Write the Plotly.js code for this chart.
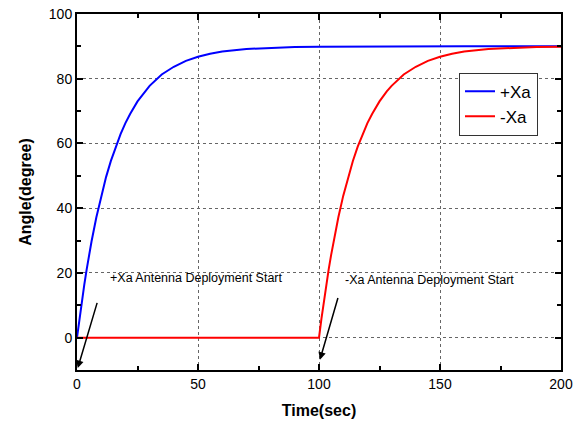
<!DOCTYPE html>
<html>
<head>
<meta charset="utf-8">
<script src="https://cdn.plot.ly/plotly-3.0.1.min.js"></script>
<style>html,body{margin:0;padding:0;background:#fff;}#chart{width:573px;height:421px;}</style>
</head>
<body>
<div id="chart"></div>
<script>
// Time (sec) sample points
const timePlus = [0,1,2,3,4,5,6,8,10,12,14,16,18,20,22,25,28,30,35,40,45,50,55,60,70,80,90,100,120,140,160,180,200];
// +Xa angle (degree)
const anglePlus = [0,5.8,11.2,16.3,21.1,25.5,29.7,37.2,43.8,49.6,54.6,59.0,62.9,66.3,69.2,73.0,76.1,77.8,81.3,83.7,85.5,86.8,87.7,88.4,89.2,89.6,89.8,89.9,90,90,90,90,90];
// -Xa
const timeMinus = [0,50,100,101,102,103,104,105,106,108,110,112,114,116,118,120,122,125,128,130,135,140,145,150,155,160,170,180,190,200];
const angleMinus = [0,0,0,5.8,11.2,16.3,21.1,25.5,29.7,37.2,43.8,49.6,54.6,59.0,62.9,66.3,69.2,73.0,76.1,77.8,81.3,83.7,85.5,86.8,87.7,88.4,89.2,89.6,89.8,89.9];

const seriesNames = ['+Xa','-Xa'];
const labelPlus = '+Xa Antenna Deployment Start';
const labelMinus = '-Xa Antenna Deployment Start';

const font = 'Liberation Sans, Arial, sans-serif';

const traces = [
  {x: timePlus, y: anglePlus, name: seriesNames[0], mode: 'lines', line: {color: '#0000ff', width: 2}},
  {x: timeMinus, y: angleMinus, name: seriesNames[1], mode: 'lines', line: {color: '#ff0000', width: 2}}
];

const axisCommon = {
  showline: true, linecolor: '#000', linewidth: 2, mirror: 'ticks',
  ticks: 'inside', ticklen: 6, tickwidth: 2, tickcolor: '#000',
  showgrid: true, gridcolor: '#666', griddash: 'dot', gridwidth: 1,
  zeroline: false,
  tickfont: {family: font, size: 14, color: '#000'}
};

const layout = {
  width: 573, height: 421,
  margin: {l: 77, r: 12, t: 14, b: 51},
  paper_bgcolor: '#fff', plot_bgcolor: '#fff',
  font: {family: font, color: '#000'},
  xaxis: Object.assign({}, axisCommon, {
    range: [0, 200], dtick: 50, tick0: 0,
    minor: {dtick: 25, ticks: 'inside', ticklen: 4, tickwidth: 2, tickcolor: '#000', showgrid: false},
    title: {text: 'Time(sec)', font: {family: font, size: 16, color: '#000', weight: 'bold'}, standoff: 14}
  }),
  yaxis: Object.assign({}, axisCommon, {
    range: [-10, 100], dtick: 20, tick0: 0,
    minor: {dtick: 10, ticks: 'inside', ticklen: 4, tickwidth: 2, tickcolor: '#000', showgrid: false},
    title: {text: 'Angle(degree)', font: {family: font, size: 16, color: '#000', weight: 'bold'}, standoff: 13}
  }),
  legend: {
    bgcolor: '#fff', bordercolor: '#333', borderwidth: 1,
    font: {family: font, size: 17, color: '#000'},
    tracegroupgap: 0
  },
  showlegend: true,
  annotations: [
    {x: 0.3, y: -9.4, ax: 8.5, ay: 11.2, axref: 'x', ayref: 'y', xref: 'x', yref: 'y',
     text: '', showarrow: true, arrowhead: 2, arrowsize: 1, arrowwidth: 1.5, arrowcolor: '#000'},
    {x: 100.4, y: -6.8, ax: 108, ay: 12.7, axref: 'x', ayref: 'y', xref: 'x', yref: 'y',
     text: '', showarrow: true, arrowhead: 2, arrowsize: 1, arrowwidth: 1.5, arrowcolor: '#000'},
    {x: 12.8, y: 18.5, xref: 'x', yref: 'y', xanchor: 'left', yanchor: 'middle', showarrow: false,
     text: labelPlus, font: {family: font, size: 12.5, color: '#000'}},
    {x: 110, y: 17.9, xref: 'x', yref: 'y', xanchor: 'left', yanchor: 'middle', showarrow: false,
     text: labelMinus, font: {family: font, size: 12.5, color: '#000'}}
  ]
};
layout.legend.x = (459 - 77) / 484;
layout.legend.y = 1 - (72.7 - 14) / 356;
layout.legend.xanchor = 'left';
layout.legend.yanchor = 'top';

Plotly.newPlot('chart', traces, layout, {displayModeBar: false, staticPlot: true});
</script>
</body>
</html>
